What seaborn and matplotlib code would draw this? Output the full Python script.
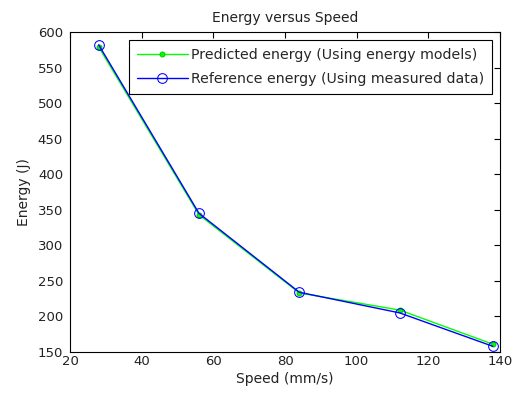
import matplotlib
matplotlib.use("Agg")
import matplotlib.pyplot as plt
import seaborn as sns
import pandas as pd

speed = [28, 56, 84, 112, 138]
predicted = [579, 343, 233, 209, 161]
reference = [582, 345, 234, 205, 158]
x_ticks = [20, 40, 60, 80, 100, 120, 140]
y_ticks = [150, 200, 250, 300, 350, 400, 450, 500, 550, 600]

sns.set_theme(style="white")
plt.rcParams['font.family'] = ['DejaVu Sans']
plt.rcParams['xtick.direction'] = 'in'
plt.rcParams['ytick.direction'] = 'in'

fig = plt.figure(figsize=(5.12, 3.98), dpi=100)
ax = fig.add_axes([70/512, 46/398, 430/512, 320/398])

df_p = pd.DataFrame({"Speed": speed, "Energy": predicted})
df_r = pd.DataFrame({"Speed": speed, "Energy": reference})

sns.lineplot(data=df_p, x="Speed", y="Energy", ax=ax, color="#00ff00", lw=1,
             marker="o", markersize=3.5, markeredgecolor="#00cc00",
             label="Predicted energy (Using energy models)")
sns.lineplot(data=df_r, x="Speed", y="Energy", ax=ax, color="#0000ff", lw=1,
             marker="o", markersize=7, markerfacecolor="none", markeredgecolor="#0000ff",
             label="Reference energy (Using measured data)")

ax.set_xlim(20, 140)
ax.set_ylim(150, 600)
ax.set_xticks(x_ticks)
ax.set_yticks(y_ticks)
ax.tick_params(axis='both', labelsize=9.5, length=4, width=0.8, color='black',
               top=True, right=True, direction='in', labelcolor='#222222')
ax.tick_params(axis='x', pad=2)
ax.tick_params(axis='y', pad=5)
for s in ax.spines.values():
    s.set_color('black')
    s.set_linewidth(0.8)
ax.set_xlabel("Speed (mm/s)", fontsize=10, labelpad=3, color='#222222')
ax.set_ylabel("Energy (J)", fontsize=10, labelpad=5, color='#222222')
ax.set_title("Energy versus Speed", fontsize=10, pad=7, color='#222222')

leg = ax.legend(loc="upper right", fontsize=10.2, frameon=True, fancybox=False,
                edgecolor='black', framealpha=1, borderaxespad=0.55,
                handlelength=3.6, handletextpad=0.25, borderpad=0.55,
                labelspacing=0.75)
leg.get_frame().set_linewidth(0.8)

fig.savefig("out.png", dpi=100)
